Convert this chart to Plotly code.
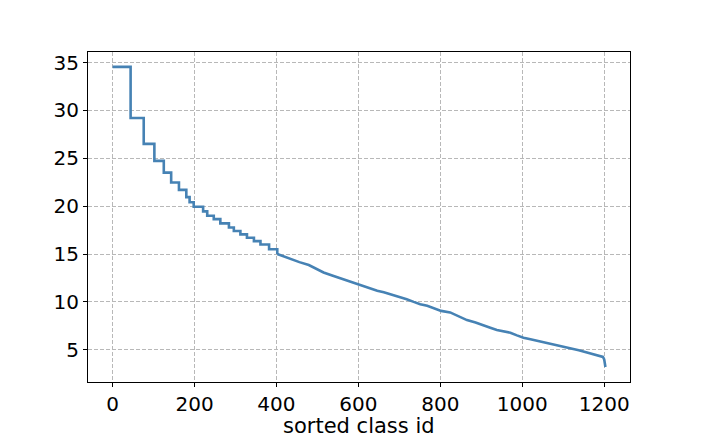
import plotly.graph_objects as go

# head of the curve: visible stair steps (class id where each level starts)
head_id = [0, 44, 76, 102, 125, 143, 162, 180, 188, 198, 221, 231, 247, 263, 284,
           296, 312, 328, 345, 361, 382, 402]
head_val = [34.55, 29.2, 26.5, 24.73, 23.5, 22.47, 21.7, 20.94, 20.4, 19.93, 19.45, 19.0, 18.64, 18.2, 17.77,
            17.4, 17.05, 16.7, 16.35, 16.0, 15.5, 15.0]

# tail of the curve: nearly smooth decline
tail_id = [402, 418, 434, 456, 479, 497, 515, 536, 556,
           578, 601, 623, 646, 662, 678, 698, 718, 735, 751, 768, 785, 802, 824, 845,
           865, 886, 906, 922, 938, 955, 971, 987, 1003, 1020, 1036, 1056, 1076, 1096,
           1117, 1138, 1158, 1175, 1190, 1197, 1200, 1203]
tail_val = [15.0, 14.75, 14.45, 14.15, 13.85, 13.45, 13.07, 12.75, 12.45,
            12.1, 11.78, 11.45, 11.16, 11.0, 10.8, 10.55, 10.28, 10.0, 9.76, 9.6, 9.35, 9.06, 8.9, 8.5,
            8.1, 7.85, 7.58, 7.3, 7.06, 6.92, 6.78, 6.5, 6.26, 6.1, 5.95, 5.78, 5.6, 5.4,
            5.18, 4.95, 4.72, 4.55, 4.38, 4.25, 4.0, 3.2]

x_ticks = [0, 200, 400, 600, 800, 1000, 1200]
y_ticks = [5, 10, 15, 20, 25, 30, 35]
x_title = "sorted class id"

LINE = "#4682B4"
fig = go.Figure()
fig.add_trace(go.Scatter(
    x=head_id, y=head_val, mode="lines",
    line=dict(color=LINE, width=2.6, shape="hv"),
    showlegend=False,
))
fig.add_trace(go.Scatter(
    x=tail_id, y=tail_val, mode="lines",
    line=dict(color=LINE, width=2.6, shape="linear"),
    showlegend=False,
))

axis_common = dict(
    showline=True, linecolor="black", linewidth=1.2, mirror=True,
    ticks="outside", ticklen=4, tickwidth=1.2, tickcolor="black",
    showgrid=True, gridcolor="#b8b8b8", gridwidth=1, griddash="4px,2px",
    zeroline=False,
    tickfont=dict(family="DejaVu Sans", size=20, color="black"),
)

fig.update_layout(
    width=701, height=438,
    margin=dict(l=80, r=79, t=44, b=64),
    paper_bgcolor="white", plot_bgcolor="white",
    font=dict(family="DejaVu Sans", color="black"),
    xaxis=dict(range=[-60, 1263], tickvals=x_ticks, **axis_common),
    yaxis=dict(range=[1.63, 36.1], tickvals=y_ticks, **axis_common),
    annotations=[dict(
        text=x_title, xref="paper", yref="paper", x=0.5, y=-0.134,
        xanchor="center", yanchor="middle", showarrow=False,
        font=dict(family="DejaVu Sans", size=21, color="black"),
    )],
)

fig.write_html("out.html")
